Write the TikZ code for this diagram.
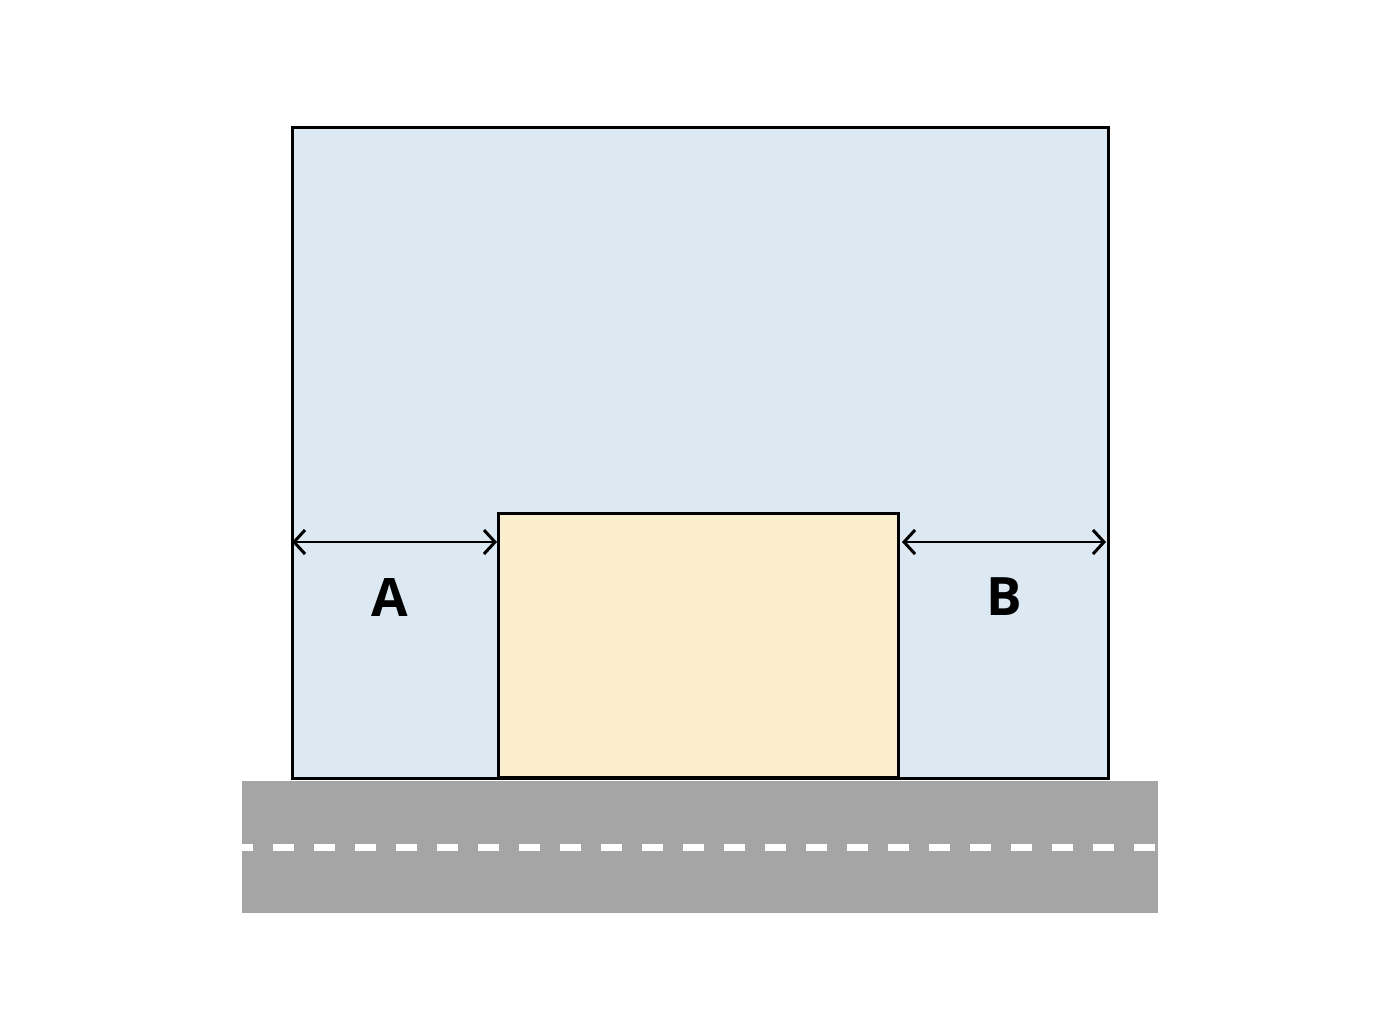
\documentclass[tikz,border=0pt]{standalone}
\usepackage{fontspec}
\setmainfont{Open Sans}
\usetikzlibrary{arrows.meta}
\definecolor{plotblue}{HTML}{DCE8F2}
\definecolor{buildyel}{HTML}{FAEECD}
\definecolor{roadgray}{HTML}{A5A5A5}
\tikzset{
  box/.style={draw=black, line width=3pt},
  dim/.style={draw=black, line width=2.6pt, {Straight Barb[length=11pt,width=24pt,line width=3pt]}-{Straight Barb[length=11pt,width=24pt,line width=3pt]}},
  lbl/.style={font=\fontsize{53}{60}\selectfont\bfseries, inner sep=0pt}
}
\begin{document}
\begin{tikzpicture}[x=1pt,y=-1pt]
\useasboundingbox (0,0) rectangle (1400,1028);
% road
\fill[roadgray] (242,781) rectangle (1158,913);
\coordinate (r1) at (242,847);
\coordinate (r2) at (1155,847);
\draw[white, line width=7pt, dash pattern=on 21pt off 20pt, dash phase=10pt] (r1) -- (r2);
% plot
\draw[box, fill=plotblue] (292,127) rectangle (1108,778);
\node[box, fill=buildyel, minimum width=400pt, minimum height=264pt, inner sep=0pt, anchor=north west] (bld) at (497,512) {};
\coordinate (pl) at (292,542);
\coordinate (pr) at (1106,542);
\draw[dim] (pl) -- (bld.west |- pl);
\draw[dim] ([xshift=2pt]bld.east |- pr) -- (pr);
\node[lbl] (A) at (390,597) {A};
\node[lbl] (B) at (1004,597) {B};
\end{tikzpicture}
\end{document}
